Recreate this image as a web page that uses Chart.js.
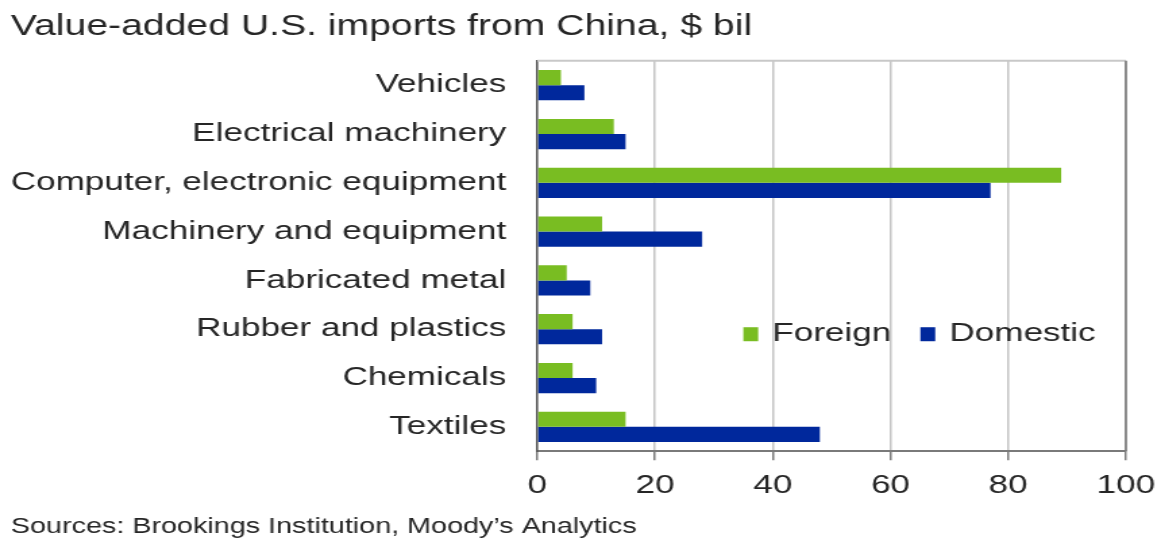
<!DOCTYPE html>
<html>
<head>
<meta charset="utf-8">
<script src="https://cdn.jsdelivr.net/npm/chart.js@4.4.1/dist/chart.umd.min.js"></script>
<style>
  html, body { margin: 0; padding: 0; background: #fff; overflow: hidden; }
  /* the source picture is stretched sideways, so draw narrow and widen */
  #wrap { width: 863px; height: 540px; transform: scaleX(1.35); transform-origin: 0 0; }
</style>
</head>
<body>
<div id="wrap"><canvas id="importsChart" width="863" height="540"></canvas></div>
<script>
const categories = [
  "Vehicles",
  "Electrical machinery",
  "Computer, electronic equipment",
  "Machinery and equipment",
  "Fabricated metal",
  "Rubber and plastics",
  "Chemicals",
  "Textiles"
];
const foreignValues = [4, 13, 89, 11, 5, 6, 6, 15];
const domesticValues = [8, 15, 77, 28, 9, 11, 10, 48];
const xTicks = [0, 20, 40, 60, 80, 100];

const titleText = "Value-added U.S. imports from China, $ bil";
const sourceText = "Sources: Brookings Institution, Moody\u2019s Analytics";

const textColor = "#262626";
const fontFamily = "'Liberation Sans', Arial, sans-serif";

// plot frame: light top edge, darker right edge
const framePlugin = {
  id: 'frame',
  afterDraw(chart) {
    const { ctx, chartArea } = chart;
    ctx.save();
    ctx.lineWidth = 2;
    ctx.strokeStyle = '#c8c8c8';
    ctx.beginPath();
    ctx.moveTo(chartArea.left, chartArea.top);
    ctx.lineTo(chartArea.right, chartArea.top);
    ctx.stroke();
    ctx.lineWidth = 1.6;
    ctx.strokeStyle = '#7a7a7a';
    ctx.beginPath();
    ctx.moveTo(chartArea.right, chartArea.top);
    ctx.lineTo(chartArea.right, chartArea.bottom);
    ctx.stroke();
    ctx.restore();
  }
};

// legend sits inside the plot, next to "Rubber and plastics"
const insideLegend = {
  id: 'insideLegend',
  afterDraw(chart) {
    const { ctx, scales } = chart;
    let x = scales.x.getPixelForValue(35);
    const y = scales.y.getPixelForValue(5) + 5;
    ctx.save();
    ctx.font = "26px " + fontFamily;
    ctx.textBaseline = 'middle';
    chart.data.datasets.forEach((ds) => {
      ctx.fillStyle = ds.backgroundColor;
      ctx.fillRect(x, y - 7, 11, 14);
      ctx.fillStyle = textColor;
      ctx.fillText(ds.label, x + 21.5, y);
      x += 21.5 + ctx.measureText(ds.label).width + 21.5;
    });
    ctx.restore();
  }
};

const ctx = document.getElementById('importsChart').getContext('2d');

new Chart(ctx, {
  type: 'bar',
  data: {
    labels: categories,
    datasets: [{
      label: 'Foreign',
      data: foreignValues,
      backgroundColor: '#79bd22'
    }, {
      label: 'Domestic',
      data: domesticValues,
      backgroundColor: '#00289c'
    }]
  },
  options: {
    indexAxis: 'y',
    responsive: false,
    animation: false,
    categoryPercentage: 0.62,
    barPercentage: 1,
    layout: { padding: { left: 8, right: 29, top: 0, bottom: 0 } },
    plugins: {
      legend: { display: false },
      tooltip: { enabled: false },
      title: {
        display: true,
        text: titleText,
        align: 'start',
        color: textColor,
        font: { family: fontFamily, size: 29, weight: 'normal' },
        padding: { top: 10, bottom: 16 }
      },
      subtitle: {
        display: true,
        text: sourceText,
        position: 'bottom',
        align: 'start',
        color: textColor,
        font: { family: fontFamily, size: 21.3, weight: 'normal' },
        padding: { top: 3, bottom: 0 }
      }
    },
    scales: {
      x: {
        min: 0,
        max: 100,
        afterBuildTicks: (axis) => {
          axis.ticks = xTicks.map(v => ({ value: v }));
        },
        // let the "100" label hang over the right padding
        afterFit: (axis) => {
          axis.paddingRight = 0;
          axis.paddingLeft = 0;
        },
        grid: {
          color: (c) => c.tick && c.tick.value === 0 ? 'rgba(0,0,0,0)' : '#c4c4c4',
          lineWidth: 1.5,
          tickColor: '#7a7a7a',
          tickLength: 9
        },
        border: { display: true, color: '#7a7a7a', width: 2 },
        ticks: {
          color: textColor,
          padding: 10,
          font: { family: fontFamily, size: 26 }
        }
      },
      y: {
        afterFit: (axis) => { axis.width = 390; },
        grid: { display: false, drawTicks: false },
        border: { display: true, color: '#555', width: 1.6 },
        ticks: {
          color: textColor,
          padding: 23,
          font: { family: fontFamily, size: 26 }
        }
      }
    }
  },
  plugins: [framePlugin, insideLegend]
});
</script>
</body>
</html>
